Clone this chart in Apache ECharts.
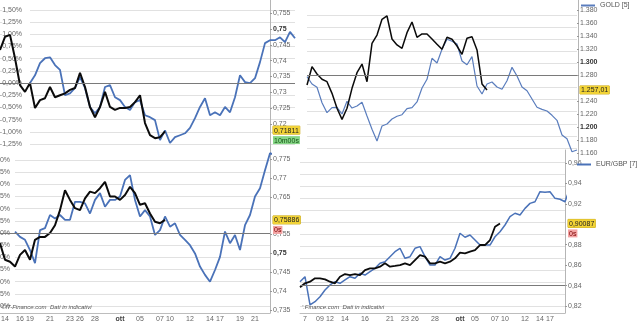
<!DOCTYPE html>
<html><head><meta charset="utf-8">
<script src="https://cdn.jsdelivr.net/npm/echarts@6/dist/echarts.min.js"></script>
<style>html,body{margin:0;padding:0;background:#fff}#c{width:640px;height:325px}</style>
</head><body><div id="c"></div>
<script>
// ---------- Top-left panel (percent scale, price labels on the right) ----------
const tlBlack = [0.68, 0.95, 0.99, 0.51, -0.04, -0.18, 0.00, -0.51, -0.35, -0.31, -0.08, -0.29, -0.25, -0.21, -0.14, -0.10, 0.21, -0.08, -0.49, -0.70, -0.49, -0.18, -0.49, -0.55, -0.51, -0.51, -0.49, -0.39, -0.25, -0.82, -1.07, -1.13, -1.11, -0.99];
const tlBlue = [null, null, null, null, null, null, 0.00, 0.16, 0.41, 0.51, 0.53, 0.37, 0.27, -0.25, -0.21, -0.10, 0.12, -0.10, -0.49, -0.62, -0.49, -0.08, -0.04, -0.29, -0.35, -0.49, -0.55, -0.39, -0.35, -0.66, -0.70, -0.76, -1.17, -0.97, -1.23, -1.11, -1.07, -1.03, -0.92, -0.72, -0.49, -0.31, -0.66, -0.60, -0.66, -0.49, -0.60, -0.29, 0.16, 0.02, 0.00, 0.10, 0.43, 0.82, 0.88, 0.88, 0.94, 0.84, 1.05, 0.92];
const tlPriceLabels = [0.72, 0.725, 0.73, 0.735, 0.74, 0.745, 0.75, 0.755];
const tlLast = 0.71811;
const tlTimer = '10m00s';

// ---------- Bottom-left panel ----------
const blBlack = [-0.21, -0.55, -0.59, -0.69, -0.45, -0.35, -0.55, -0.14, -0.08, -0.08, 0.00, 0.16, 0.47, 0.88, 0.68, 0.51, 0.47, 0.71, 0.85, 0.82, 0.92, 1.05, 0.75, 0.75, 0.68, 0.78, 0.95, 0.82, 0.58, 0.61, 0.40, 0.23, 0.20, 0.27];
const blBlue = [null, null, null, 0.03, -0.08, -0.14, -0.35, -0.62, 0.06, 0.10, 0.37, 0.30, 0.37, 0.27, 0.27, 0.64, 0.64, 0.61, 0.40, 0.68, 0.82, 0.54, 0.68, 0.68, 0.75, 1.09, 1.19, 0.68, 0.34, 0.47, 0.34, -0.04, 0.06, 0.34, 0.13, 0.20, -0.04, -0.14, -0.25, -0.42, -0.69, -0.86, -1.00, -0.76, -0.49, 0.03, -0.21, -0.04, -0.35, 0.16, 0.37, 0.75, 0.92, 1.29, 1.64, 1.60];
const blPriceLabels = [0.735, 0.74, 0.745, 0.75, 0.755, 0.765, 0.77, 0.775];
const blLast = 0.75886;
const blTimer = '0s';
const blDates = ['14', '16', '19', '21', '23', '26', '28', 'ott', '05', '07', '10', '12', '14', '17', '19', '21'];
const blDateSlots = [1, 4, 6, 10, 14, 16, 19, 24, 28, 32, 34, 38, 42, 44, 48, 51];

// ---------- Top-right panel (gold) ----------
const trBlack = [1264.6, 1292.8, 1281.5, 1273.4, 1269.7, 1251.8, 1228.8, 1211.8, 1228.8, 1259.5, 1283.5, 1296.9, 1269.7, 1328.8, 1341.5, 1365.7, 1370.8, 1335.4, 1326.2, 1321.1, 1345.1, 1361.5, 1338.0, 1343.1, 1343.1, 1335.4, 1327.2, 1319.5, 1338.0, 1334.9, 1324.6, 1311.8, 1336.5, 1338.9, 1318.5, 1266.2, 1257.01];
const trBlue = [1277.4, 1266.2, 1261.1, 1237.4, 1222.0, 1229.7, 1230.3, 1220.0, 1239.5, 1229.2, 1232.3, 1238.0, 1216.9, 1196.5, 1178.5, 1201.5, 1204.6, 1212.3, 1216.5, 1218.9, 1228.2, 1229.7, 1238.5, 1260.0, 1273.4, 1305.7, 1298.5, 1319.5, 1334.9, 1331.9, 1327.7, 1301.5, 1295.8, 1308.2, 1263.1, 1250.8, 1266.2, 1269.2, 1261.5, 1258.0, 1271.2, 1291.8, 1278.5, 1261.5, 1255.8, 1243.1, 1230.3, 1227.2, 1224.6, 1218.0, 1210.3, 1187.7, 1182.0, 1162.0, 1164.6];
const trPriceLabels = [1160, 1180, 1200, 1220, 1240, 1280, 1300, 1320, 1340, 1360, 1380];
const trLast = 1257.01;
const trBase = 1279;
const trName = 'GOLD [5]';

// ---------- Bottom-right panel (EUR/GBP) ----------
const brBlack = [0.8383, 0.8422, 0.8438, 0.8471, 0.8471, 0.8461, 0.8438, 0.8422, 0.8487, 0.8513, 0.8503, 0.8513, 0.8503, 0.8552, 0.8569, 0.8569, 0.8585, 0.8618, 0.8585, 0.8592, 0.8601, 0.8618, 0.8601, 0.8650, 0.8699, 0.8683, 0.8618, 0.8618, 0.8634, 0.8618, 0.8634, 0.8667, 0.8722, 0.8716, 0.8732, 0.8748, 0.8797, 0.8797, 0.8846, 0.8976, 0.90087];
const brBlue = [0.8438, 0.8487, 0.8210, 0.8242, 0.8291, 0.8357, 0.8406, 0.8438, 0.8422, 0.8455, 0.8487, 0.8471, 0.8520, 0.8503, 0.8536, 0.8569, 0.8618, 0.8634, 0.8683, 0.8732, 0.8765, 0.8667, 0.8683, 0.8765, 0.8781, 0.8683, 0.8601, 0.8601, 0.8683, 0.8650, 0.8667, 0.8765, 0.8912, 0.8873, 0.8895, 0.8846, 0.8797, 0.8797, 0.8797, 0.8878, 0.8927, 0.8993, 0.9074, 0.9108, 0.9091, 0.9156, 0.9205, 0.9221, 0.9319, 0.9313, 0.9319, 0.9254, 0.9245, 0.9221, 0.9355];
const brPriceLabels = [0.82, 0.84, 0.86, 0.88, 0.92, 0.94, 0.96];
const brLast = 0.90087;
const brTimer = '0s';
const brBase = 0.8435;
const brName = 'EUR/GBP [7]';
const brDates = ['7', '09', '12', '14', '16', '21', '23', '26', '28', 'ott', '05', '07', '10', '12', '14', '17'];
const brDateSlots = [1, 4, 6, 9, 13, 18, 21, 23, 27, 32, 35, 39, 41, 45, 48, 50];

const credit = '©IT-Finance.com  Dati in indicativi';
const creditCut = "'.Finance.com  Dati in indicativi";

// ---------- styling helpers ----------
const FONT = '"Liberation Sans", Arial, Helvetica, sans-serif';
const LBL = '#666';
const GRIDC = '#e1e1e1';
const BLACK = '#0b0b0b';
const BLUE = '#4a72b8';
const RICH = {
  sp: {fontSize: 7, lineHeight: 10, fontFamily: FONT},
  tag: {fontSize: 7, lineHeight: 10, fontFamily: FONT, color: '#222', backgroundColor: '#f2d335', borderColor: '#c9a814', borderWidth: 0.5, padding: [1, 1, 0, 1]},
  gr: {fontSize: 7, lineHeight: 10, fontFamily: FONT, color: '#145214', backgroundColor: '#86d686', padding: [1, 1, 0, 1]},
  rd: {fontSize: 7, lineHeight: 10, fontFamily: FONT, color: '#7a0000', backgroundColor: '#f3a3a3', padding: [1, 1, 0, 1]},
  b: {fontSize: 7, fontFamily: FONT, fontWeight: 'bold', color: '#333'},
  m: {fontSize: 7, fontFamily: FONT, fontWeight: 'bold', color: '#444'}
};
const near = (a, b) => Math.abs(a - b) < 1e-9;
const dec = (v, d) => v.toFixed(d).replace(/0+$/, '').replace(/\.$/, '').replace('.', ',');
const pct = v => v.toFixed(2).replace('.', ',') + '%';
const thou = v => {
  const parts = v.toFixed(2).split('.');
  const ip = parts[0].replace(/\B(?=(\d{3})+(?!\d))/g, '.');
  return Number(parts[1]) === 0 ? ip : ip + ',' + parts[1];
};
const cats = n => Array.from({length: n}, (_, i) => String(i));

const grids = [], xAxes = [], yAxes = [], series = [];
function grid(o) { grids.push(Object.assign({outerBoundsMode: 'none', containLabel: false, show: false}, o)); return grids.length - 1; }
function hiddenValueX(g) { xAxes.push({gridIndex: g, type: 'value', min: 0, max: 1, show: false}); return xAxes.length - 1; }
function hiddenCatX(g, n, max) { xAxes.push({gridIndex: g, type: 'category', data: cats(n), boundaryGap: false, show: false, max: max}); return xAxes.length - 1; }
function dateX(g, n, max, dates, slots) {
  const map = {};
  slots.forEach((s, i) => { map[s] = dates[i]; });
  xAxes.push({gridIndex: g, type: 'category', data: cats(n), boundaryGap: false, max: max, position: 'bottom',
    axisLine: {show: true, onZero: false, lineStyle: {color: '#bdbdbd'}}, axisTick: {show: false}, splitLine: {show: false},
    axisLabel: {interval: 0, margin: 3, fontSize: 7, color: LBL, fontFamily: FONT, rich: RICH,
      formatter: (val, idx) => { const t = map[idx]; if (!t) return ''; return t === 'ott' ? '{m|ott}' : t; }}});
  return xAxes.length - 1;
}
function frameY(g) {
  yAxes.push({gridIndex: g, type: 'value', min: 0, max: 1, position: 'right',
    axisLine: {show: true, onZero: false, lineStyle: {color: '#b5b5b5'}}, axisTick: {show: false}, axisLabel: {show: false}, splitLine: {show: false}});
  return yAxes.length - 1;
}
function pctY(g, min, max, labelOpt) {
  yAxes.push({gridIndex: g, type: 'value', min: min, max: max, interval: 0.25, position: 'left',
    axisLine: {show: false, onZero: false}, axisTick: {show: false},
    splitLine: {show: true, lineStyle: {color: GRIDC, width: 1}},
    axisLabel: labelOpt ? Object.assign({inside: true, align: 'right', fontSize: 7, color: LBL, fontFamily: FONT, formatter: pct,
      backgroundColor: '#fff', showMinLabel: true, showMaxLabel: true}, labelOpt) : {show: false}});
  return yAxes.length - 1;
}
function priceY(g, o) {
  yAxes.push({gridIndex: g, type: 'value', position: 'right', offset: o.offset || 0, min: o.min, max: o.max, interval: o.interval,
    axisLine: {show: false, onZero: false},
    axisTick: {show: true, length: 2, lineStyle: {color: '#999'}, customValues: o.labels},
    splitLine: {show: false},
    axisLabel: {margin: 3, fontSize: 7, color: LBL, fontFamily: FONT, rich: RICH, customValues: o.labels.concat([o.last]),
      showMinLabel: true, showMaxLabel: true,
      formatter: v => {
        if (near(v, o.last)) return o.lastLabel;
        const s = o.fmt(v);
        return o.bold.some(b => near(b, v)) ? '{b|' + s + '}' : s;
      }}});
  return yAxes.length - 1;
}
function line(name, xi, yi, data, color, width, z, extra) {
  return Object.assign({type: 'line', name: name, xAxisIndex: xi, yAxisIndex: yi, data: data, showSymbol: false, symbol: 'none',
    clip: false, silent: true, z: z, lineStyle: {color: color, width: width}, itemStyle: {color: color},
    emphasis: {disabled: true}, animation: false}, extra || {});
}
const baseLine = v => ({silent: true, symbol: ['none', 'none'], label: {show: false}, animation: false,
  emphasis: {disabled: true}, lineStyle: {color: '#7a7a7a', width: 1, type: 'solid'}, data: [{yAxis: v}]});

// ---------- Top-left ----------
{
  const gL = grid({left: 0, top: 10, width: 295, height: 134});
  const xL = hiddenCatX(gL, 60);
  const yL = pctY(gL, -1.25, 1.5, {margin: 30, padding: [0, 8, 0, 0]});
  const gP = grid({left: 0, top: 13, width: 295, height: 127});
  hiddenValueX(gP);
  priceY(gP, {min: 0.715, max: 0.755, interval: 0.005, offset: -25, labels: tlPriceLabels, last: tlLast,
    lastLabel: '{sp| }\n{tag|' + dec(tlLast, 5) + '}\n{gr|' + tlTimer + '}', fmt: v => dec(v, 3), bold: [0.75]});
  const gF = grid({left: 0, top: 0, width: 270, height: 152});
  hiddenValueX(gF); frameY(gF);
  series.push(line('tlBlue', xL, yL, tlBlue, BLUE, 1.8, 3));
  series.push(line('tlBlack', xL, yL, tlBlack, BLACK, 2, 4, {markLine: baseLine(0)}));
}
// ---------- Bottom-left ----------
{
  const gL = grid({left: 0, top: 160, width: 270, height: 146});
  const xL = hiddenCatX(gL, 56, 54);
  const yL = pctY(gL, -1.5, 1.5, {margin: 15, padding: [0, 5, 0, 0]});
  const gP = grid({left: 0, top: 159, width: 270, height: 151});
  hiddenValueX(gP);
  priceY(gP, {min: 0.735, max: 0.775, interval: 0.005, labels: blPriceLabels, last: blLast,
    lastLabel: '{sp| }\n{tag|' + dec(blLast, 5) + '}\n{rd|' + blTimer + '}', fmt: v => dec(v, 3), bold: [0.75]});
  const gF = grid({left: 0, top: 150, width: 270, height: 163});
  dateX(gF, 56, 54, blDates, blDateSlots); frameY(gF);
  series.push(line('blBlue', xL, yL, blBlue, BLUE, 1.8, 3));
  series.push(line('blBlack', xL, yL, blBlack, BLACK, 2, 4, {markLine: baseLine(0)}));
}
// ---------- Top-right ----------
{
  const gL = grid({left: 307, top: 15, width: 270, height: 133});
  hiddenValueX(gL);
  pctY(gL, -1.5, 1.25, null);
  const gP = grid({left: 307, top: 10, width: 270, height: 143});
  const xP = hiddenCatX(gP, 55);
  const yP = priceY(gP, {min: 1160, max: 1380, interval: 20, labels: trPriceLabels, last: trLast,
    lastLabel: '{tag|' + thou(trLast) + '}', fmt: thou, bold: [1300, 1200]});
  const gF = grid({left: 307, top: 0, width: 271, height: 160});
  hiddenValueX(gF); frameY(gF);
  series.push(line(trName, xP, yP, trBlue, '#5a7dbd', 1.2, 3));
  series.push(line('trBlack', xP, yP, trBlack, BLACK, 1.5, 4, {markLine: baseLine(trBase)}));
}
// ---------- Bottom-right ----------
{
  const gL = grid({left: 300, top: 162, width: 265, height: 144});
  hiddenValueX(gL);
  pctY(gL, -0.5, 2.5, null);
  const gP = grid({left: 300, top: 163, width: 265, height: 143});
  const xP = hiddenCatX(gP, 55, 53);
  const yP = priceY(gP, {min: 0.82, max: 0.96, interval: 0.02, labels: brPriceLabels, last: brLast,
    lastLabel: '{sp| }\n{tag|' + dec(brLast, 5) + '}\n{rd|' + brTimer + '}', fmt: v => dec(v, 2), bold: []});
  const gF = grid({left: 300, top: 150, width: 265, height: 163});
  dateX(gF, 55, 53, brDates, brDateSlots); frameY(gF);
  series.push(line(brName, xP, yP, brBlue, BLUE, 1.5, 3));
  series.push(line('brBlack', xP, yP, brBlack, BLACK, 1.8, 4, {markLine: baseLine(brBase)}));
}

const legendStyle = {padding: 0, itemWidth: 14, itemHeight: 2, icon: 'rect', itemGap: 2, selectedMode: false,
  textStyle: {fontSize: 7, color: '#555', fontFamily: FONT}};
const titleStyle = {fontSize: 6, fontStyle: 'italic', fontWeight: 'normal', color: '#555', fontFamily: FONT};

const option = {
  animation: false,
  backgroundColor: '#fff',
  grid: grids, xAxis: xAxes, yAxis: yAxes, series: series,
  legend: [
    Object.assign({data: [trName], left: 581, top: 2}, legendStyle),
    Object.assign({data: [brName], left: 577, top: 161}, legendStyle)
  ],
  title: [
    {text: credit, left: 1, top: 304, padding: 0, textStyle: titleStyle},
    {text: creditCut, left: 302, top: 304, padding: 0, textStyle: titleStyle}
  ]
};
const chart = echarts.init(document.getElementById('c'), null, {renderer: 'canvas'});
chart.setOption(option);
</script></body></html>
